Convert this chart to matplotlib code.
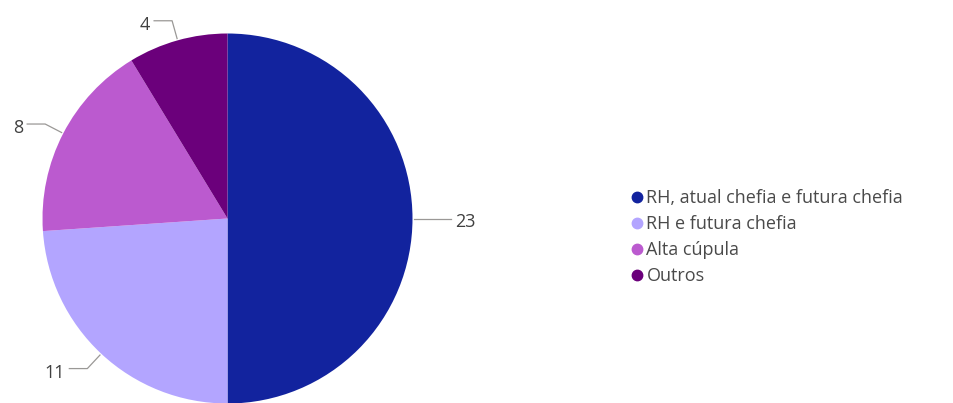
import numpy as np
import matplotlib.pyplot as plt
from matplotlib.lines import Line2D

# Données
categories = ['RH, atual chefia e futura chefia', 'RH e futura chefia', 'Alta cúpula', 'Outros']
valeurs = [23, 11, 8, 4]
couleurs = ['#12239E', '#B3A5FF', '#BB5ACF', '#6B007B']

plt.rcParams['font.family'] = ['Open Sans', 'DejaVu Sans']

fig = plt.figure(figsize=(9.54, 4.03), dpi=100)
ax = fig.add_axes([0, 0, 1, 1])

cx, cy, r = 227.5, 184.5, 185
wedges, _ = ax.pie(valeurs, colors=couleurs, startangle=90, counterclock=False,
                   center=(cx, cy), radius=r, wedgeprops=dict(linewidth=0))
ax.set_xlim(0, 954)
ax.set_ylim(0, 403)
ax.set_aspect('equal')
ax.axis('off')

# Étiquettes avec lignes de rappel
gris = '#9a9896'
for w, v in zip(wedges, valeurs):
    ang = np.deg2rad((w.theta1 + w.theta2) / 2)
    dx, dy = np.cos(ang), np.sin(ang)
    x0, y0 = cx + r * 1.01 * dx, cy + r * 1.01 * dy
    x1, y1 = cx + r * 1.11 * dx, cy + r * 1.11 * dy
    sens = 1 if dx >= 0 else -1
    x2 = x1 + sens * 18
    ax.plot([x0, x1, x2], [y0, y1, y1], color=gris, lw=0.9)
    ax.text(x2 + sens * 4, y1 - 4, str(v), ha='left' if sens > 0 else 'right',
            va='center', fontsize=13, color='#404040')

# Légende
poignees = [Line2D([], [], marker='o', linestyle='', markersize=7.5,
                   markerfacecolor=c, markeredgecolor=c) for c in couleurs]
leg = fig.legend(poignees, categories, loc='upper left', bbox_to_anchor=(623 / 954, 1 - 180 / 403),
                 frameon=False, fontsize=13, labelcolor='#4a4a4a', handlelength=0.55,
                 handletextpad=0.25, labelspacing=0.45, borderpad=0)

plt.savefig('out.png', dpi=100)
